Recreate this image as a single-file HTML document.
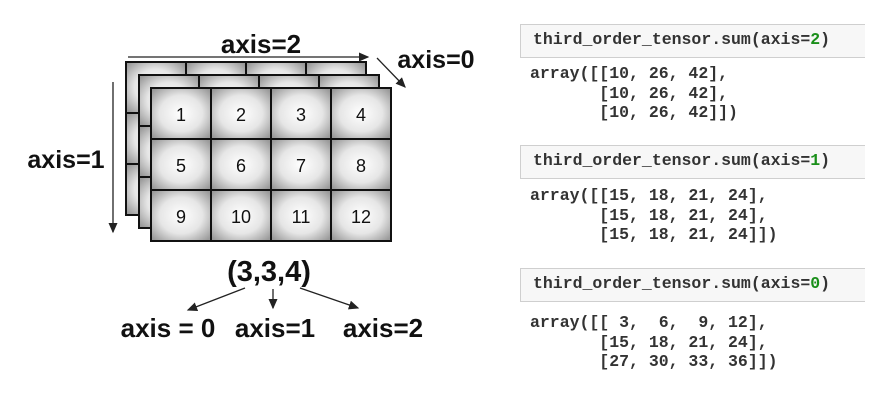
<!DOCTYPE html>
<html><head><style>
body{margin:0;background:#fff;width:892px;height:402px;overflow:hidden;font-family:"Liberation Sans",sans-serif}
.box{position:absolute;left:520px;width:345px;height:34px;background:#f7f7f7;border:1px solid #cfcfcf;border-right:none;box-sizing:border-box}
.code{position:absolute;font-family:"Liberation Mono",monospace;font-size:16.5px;font-weight:bold;color:#333;white-space:pre;line-height:19.5px}
.g{color:#1a8f1a}
</style></head><body>
<svg width="892" height="402" style="position:absolute;left:0;top:0">
<defs>
<radialGradient id="c" cx="50%" cy="50%" r="65%">
<stop offset="0" stop-color="#ffffff"/><stop offset="0.55" stop-color="#e6e6e6"/><stop offset="1" stop-color="#9a9a9a"/>
</radialGradient>
<marker id="a" markerWidth="8" markerHeight="8" refX="7" refY="4" orient="auto"><path d="M0,0.5 L8,4 L0,7.5 z" fill="#222"/></marker>
</defs>
<g stroke="#111" stroke-width="2" fill="url(#c)">
<g transform="translate(126,62)">
<rect x="0" y="0" width="60" height="51"/><rect x="60" y="0" width="60" height="51"/><rect x="120" y="0" width="60" height="51"/><rect x="180" y="0" width="60" height="51"/>
<rect x="0" y="51" width="60" height="51"/><rect x="0" y="102" width="60" height="51"/>
</g>
<g transform="translate(139,75)">
<rect x="0" y="0" width="60" height="51"/><rect x="60" y="0" width="60" height="51"/><rect x="120" y="0" width="60" height="51"/><rect x="180" y="0" width="60" height="51"/>
<rect x="0" y="51" width="60" height="51"/><rect x="0" y="102" width="60" height="51"/>
</g>
<g transform="translate(151,88)">
<rect x="0" y="0" width="60" height="51"/><rect x="60" y="0" width="60" height="51"/><rect x="120" y="0" width="60" height="51"/><rect x="180" y="0" width="60" height="51"/>
<rect x="0" y="51" width="60" height="51"/><rect x="60" y="51" width="60" height="51"/><rect x="120" y="51" width="60" height="51"/><rect x="180" y="51" width="60" height="51"/>
<rect x="0" y="102" width="60" height="51"/><rect x="60" y="102" width="60" height="51"/><rect x="120" y="102" width="60" height="51"/><rect x="180" y="102" width="60" height="51"/>
</g>
</g>
<g font-size="18" fill="#111" text-anchor="middle" font-family="Liberation Sans, sans-serif">
<text x="181" y="121">1</text><text x="241" y="121">2</text><text x="301" y="121">3</text><text x="361" y="121">4</text>
<text x="181" y="172">5</text><text x="241" y="172">6</text><text x="301" y="172">7</text><text x="361" y="172">8</text>
<text x="181" y="223">9</text><text x="241" y="223">10</text><text x="301" y="223">11</text><text x="361" y="223">12</text>
</g>
<g stroke="#222" stroke-width="1.3" fill="none" marker-end="url(#a)">
<line x1="128" y1="57" x2="368" y2="57"/>
<line x1="113" y1="82" x2="113" y2="232"/>
<line x1="377" y1="58" x2="405" y2="87"/>
<line x1="245" y1="288" x2="188" y2="310"/>
<line x1="273" y1="289" x2="273" y2="308"/>
<line x1="300" y1="288" x2="358" y2="308"/>
</g>
<g font-weight="bold" fill="#111" font-family="Liberation Sans, sans-serif" font-size="25">
<text x="261" y="53" text-anchor="middle" font-size="26">axis=2</text>
<text x="436" y="68" text-anchor="middle">axis=0</text>
<text x="66" y="168" text-anchor="middle">axis=1</text>
<text x="269" y="281" text-anchor="middle" font-size="29">(3,3,4)</text>
<text x="168" y="337" text-anchor="middle" font-size="26">axis = 0</text>
<text x="275" y="337" text-anchor="middle" font-size="26">axis=1</text>
<text x="383" y="337" text-anchor="middle" font-size="26">axis=2</text>
</g>
</svg>
<div class="box" style="top:24px"></div>
<div class="code" style="left:533px;top:30px">third_order_tensor.sum(axis=<span class="g">2</span>)</div>
<div class="code" style="left:530px;top:64px">array([[10, 26, 42],
       [10, 26, 42],
       [10, 26, 42]])</div>
<div class="box" style="top:145px"></div>
<div class="code" style="left:533px;top:151px">third_order_tensor.sum(axis=<span class="g">1</span>)</div>
<div class="code" style="left:530px;top:186px">array([[15, 18, 21, 24],
       [15, 18, 21, 24],
       [15, 18, 21, 24]])</div>
<div class="box" style="top:268px"></div>
<div class="code" style="left:533px;top:274px">third_order_tensor.sum(axis=<span class="g">0</span>)</div>
<div class="code" style="left:530px;top:313px">array([[ 3,  6,  9, 12],
       [15, 18, 21, 24],
       [27, 30, 33, 36]])</div>
</body></html>
